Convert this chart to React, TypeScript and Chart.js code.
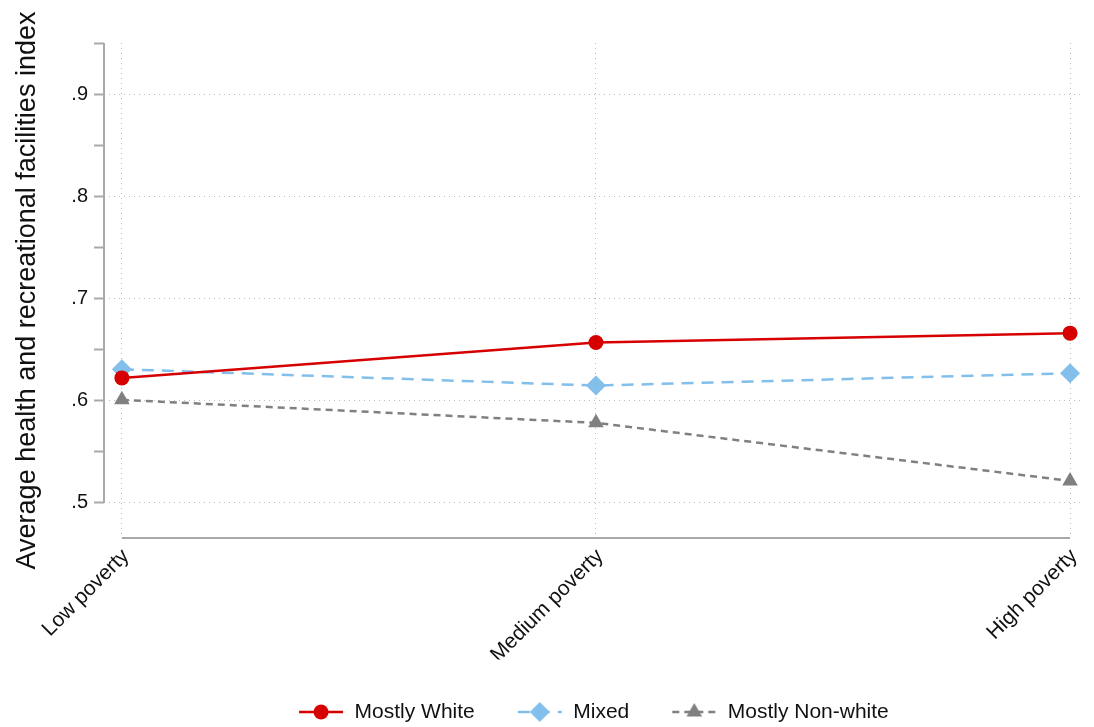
import React, { useEffect, useRef } from "react";
import { Chart, registerables } from "chart.js";

Chart.register(...registerables);

const categories = ["Low poverty", "Medium poverty", "High poverty"];
const mostlyWhite = [0.6222, 0.6568, 0.666];
const mixed = [0.6307, 0.6147, 0.6268];
const mostlyNonWhite = [0.6007, 0.5782, 0.5214];
const yMajorTicks = [0.5, 0.6, 0.7, 0.8, 0.9];
const yMinorTicks = [0.55, 0.65, 0.75, 0.85, 0.95];
const yTickLabels = [".5", ".6", ".7", ".8", ".9"];
const seriesNames = ["Mostly White", "Mixed", "Mostly Non-white"];
const yTitle = "Average health and recreational facilities index";

const FONT = "'Liberation Sans', Arial, Helvetica, sans-serif";
const RED = "rgb(214,0,0)";
const BLUE = "rgb(130,191,234)";
const GRAY = "rgb(128,128,128)";
const AXIS = "#a9a9a9";
const GRID = "#bdbdbd";

function drawMarker(ctx: CanvasRenderingContext2D, style: string, x: number, y: number, r: number) {
  ctx.beginPath();
  if (style === "circle") {
    ctx.arc(x, y, r, 0, Math.PI * 2);
  } else if (style === "rectRot") {
    ctx.moveTo(x - r, y);
    ctx.lineTo(x, y - r);
    ctx.lineTo(x + r, y);
    ctx.lineTo(x, y + r);
  } else {
    const h = 1.5 * r;
    const w = Math.sqrt(3) * r;
    ctx.moveTo(x, y - r);
    ctx.lineTo(x + w / 2, y - r + h);
    ctx.lineTo(x - w / 2, y - r + h);
  }
  ctx.closePath();
  ctx.fill();
}

function makeSymbol(color: string, dash: number[], width: number, style: string, r: number) {
  const c = document.createElement("canvas");
  c.width = 46;
  c.height = 24;
  const ctx = c.getContext("2d")!;
  ctx.strokeStyle = color;
  ctx.fillStyle = color;
  ctx.lineWidth = width;
  ctx.setLineDash(dash);
  ctx.beginPath();
  ctx.moveTo(1, 12);
  ctx.lineTo(45, 12);
  ctx.stroke();
  ctx.setLineDash([]);
  drawMarker(ctx, style, 23, 12, r);
  return c;
}

const isMajor = (v: number) => yMajorTicks.some((t) => Math.abs(t - v) < 1e-6);

const axesPlugin = {
  id: "stataAxes",
  beforeDatasetsDraw(chart: any) {
    const { ctx, chartArea, scales } = chart;
    const x = scales.x;
    const y = scales.y;
    ctx.save();
    ctx.strokeStyle = AXIS;
    ctx.lineWidth = 2;
    ctx.beginPath();
    ctx.moveTo(chartArea.left, y.getPixelForValue(yMajorTicks[0]));
    ctx.lineTo(chartArea.left, y.getPixelForValue(yMinorTicks[yMinorTicks.length - 1]));
    ctx.stroke();
    ctx.beginPath();
    ctx.moveTo(x.getPixelForValue(0), chartArea.bottom);
    ctx.lineTo(x.getPixelForValue(categories.length - 1), chartArea.bottom);
    ctx.stroke();
    ctx.restore();
  },
};

export default function App() {
  const ref = useRef<HTMLCanvasElement>(null);
  useEffect(() => {
    document.body.style.margin = "0";
    const canvas = ref.current!;
    const toPts = (vals: number[]) => vals.map((v, i) => ({ x: i, y: v }));
    const symbols = [
      makeSymbol(RED, [], 2.5, "circle", 7.5),
      makeSymbol(BLUE, [12, 8], 2.5, "rectRot", 10),
      makeSymbol(GRAY, [7, 5], 2.5, "triangle", 9),
    ];
    const LEGEND_PAD = 42;
    const LEGEND_FONT = 21;
    const legendHeight = 727 - (712 - LEGEND_PAD - LEGEND_FONT / 2);
    const chart = new Chart(canvas, {
      type: "line",
      data: {
        datasets: [
          {
            label: seriesNames[0],
            data: toPts(mostlyWhite),
            borderColor: RED,
            backgroundColor: RED,
            borderWidth: 2.5,
            pointStyle: "circle",
            pointRadius: 7.5,
            pointBorderWidth: 0,
          },
          {
            label: seriesNames[1],
            data: toPts(mixed),
            borderColor: BLUE,
            backgroundColor: BLUE,
            borderWidth: 2.5,
            borderDash: [12, 8],
            pointStyle: "rectRot",
            pointRadius: 10,
            pointBorderWidth: 0,
          },
          {
            label: seriesNames[2],
            data: toPts(mostlyNonWhite),
            borderColor: GRAY,
            backgroundColor: GRAY,
            borderWidth: 2.5,
            borderDash: [7, 5],
            pointStyle: "triangle",
            pointRadius: 9,
            pointBorderWidth: 0,
          },
        ],
      },
      options: {
        animation: false,
        responsive: false,
        events: [],
        layout: { padding: { top: 43, right: 4, left: 0, bottom: 0 } },
        scales: {
          x: {
            type: "linear",
            min: -0.0377,
            max: 2.027,
            afterBuildTicks: (scale: any) => {
              scale.ticks = categories.map((_, i) => ({ value: i }));
            },
            afterFit: (scale: any) => {
              scale.height = 727 - 538 - legendHeight;
            },
            grid: {
              drawTicks: false,
              color: GRID,
              lineWidth: 1,
            },
            border: { display: false, dash: [1, 4] },
            ticks: {
              autoSkip: false,
              maxRotation: 45,
              minRotation: 45,
              padding: 6,
              labelOffset: 4,
              color: "#111",
              font: { family: FONT, size: 21 },
              callback: (v: any) => categories[v as number] ?? "",
            },
          },
          y: {
            type: "linear",
            min: 0.4655,
            max: 0.95,
            afterBuildTicks: (scale: any) => {
              scale.ticks = [...yMajorTicks, ...yMinorTicks]
                .sort((a, b) => a - b)
                .map((v) => ({ value: v }));
            },
            afterFit: (scale: any) => {
              scale.width = 104;
            },
            grid: {
              color: (c: any) => (c.tick && isMajor(c.tick.value) ? GRID : "rgba(0,0,0,0)"),
              lineWidth: 1,
              drawTicks: true,
              tickLength: 10,
              tickColor: AXIS,
              tickWidth: 2,
            },
            border: { display: false, dash: [1, 4] },
            ticks: {
              padding: 6,
              color: "#111",
              font: { family: FONT, size: 20 },
              callback: (v: any) => {
                const i = yMajorTicks.findIndex((t) => Math.abs(t - (v as number)) < 1e-6);
                return i >= 0 ? yTickLabels[i] : "";
              },
            },
            title: {
              display: true,
              text: yTitle,
              color: "#111",
              font: { family: FONT, size: 27 },
              padding: { top: 11, bottom: 0 },
            },
          },
        },
        plugins: {
          tooltip: { enabled: false },
          legend: {
            position: "bottom",
            fullSize: false,
            maxHeight: legendHeight,
            labels: {
              usePointStyle: true,
              pointStyleWidth: 46,
              padding: LEGEND_PAD,
              color: "#111",
              font: { family: FONT, size: LEGEND_FONT },
              generateLabels: () =>
                seriesNames.map((name, i) => ({
                  text: name,
                  pointStyle: symbols[i],
                  fillStyle: "transparent",
                  strokeStyle: "transparent",
                  lineWidth: 0,
                  hidden: false,
                  datasetIndex: i,
                  fontColor: "#111",
                })),
            },
          },
        },
      },
      plugins: [axesPlugin],
    } as any);
    return () => chart.destroy();
  }, []);
  return (
    <div style={{ position: "fixed", left: 0, top: 0, width: 1094, height: 727, background: "#fff" }}>
      <canvas ref={ref} width={1094} height={727} style={{ display: "block" }} />
    </div>
  );
}
